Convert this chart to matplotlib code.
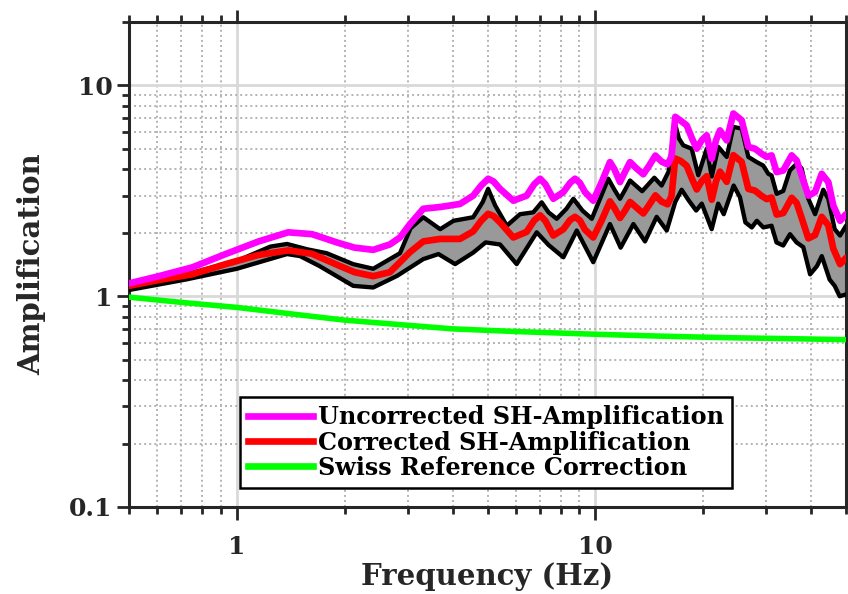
import matplotlib
matplotlib.use("Agg")
import matplotlib.pyplot as plt
from matplotlib.lines import Line2D
from matplotlib.ticker import LogLocator, NullFormatter

# uncorrected SH amplification (Hz, amplification)
freq_unc = [0.5, 0.6, 0.75, 0.93, 1.15, 1.39, 1.62, 1.92, 2.13, 2.4, 2.67, 2.85, 3.04, 3.31, 3.69,
            4.19, 4.56, 4.8, 5.02, 5.2, 5.42, 5.9, 6.43, 6.75, 7.01, 7.25, 7.63, 8.14, 8.5, 8.77,
            9.05, 9.35, 9.86, 10.41, 10.98, 11.3, 11.71, 12.1, 12.49, 13.0, 13.6, 14.1, 14.7, 15.3, 15.9,
            16.3, 16.7, 17.3, 17.97, 18.6, 19.17, 19.8, 20.44, 21.11, 21.7, 22.26, 23.24, 24.25, 25.58,
            26.7, 27.87, 29.09, 30.04, 31.0, 32.03, 33.42, 35.27, 36.42, 37.61, 39.26, 40.99, 42.78, 44.63,
            46.09, 48.13, 50.0]
amp_unc = [1.15, 1.24, 1.37, 1.585, 1.82, 2.01, 1.97, 1.79, 1.70, 1.66, 1.76, 1.90, 2.20, 2.60, 2.65,
           2.74, 3.00, 3.35, 3.61, 3.50, 3.23, 2.84, 3.00, 3.40, 3.61, 3.40, 2.90, 3.12, 3.45, 3.61,
           3.45, 3.12, 2.84, 3.48, 4.33, 4.00, 3.48, 3.90, 4.33, 4.05, 3.79, 4.15, 4.65, 4.35, 4.22,
           4.60, 7.10, 6.80, 6.47, 5.60, 5.01, 5.50, 5.80, 4.49, 5.50, 6.12, 5.49, 7.36, 6.84,
           5.11, 5.01, 4.74, 4.58, 4.66, 3.88, 3.95, 4.66, 4.41, 3.74, 3.00, 3.12, 3.81, 3.48,
           2.69, 2.28, 2.45]

# corrected SH amplification, same frequencies
amp_cor = [1.12, 1.19, 1.27, 1.42, 1.57, 1.65, 1.59, 1.40, 1.30, 1.245, 1.30, 1.45, 1.62, 1.82, 1.87,
           1.87, 2.03, 2.28, 2.46, 2.40, 2.24, 1.90, 2.02, 2.29, 2.42, 2.28, 1.94, 2.08, 2.30, 2.38,
           2.29, 2.07, 1.90, 2.29, 2.82, 2.62, 2.35, 2.55, 2.80, 2.64, 2.47, 2.70, 3.01, 2.81, 2.73,
           2.98, 4.50, 4.38, 4.16, 3.60, 3.21, 3.52, 3.71, 2.87, 3.51, 3.90, 3.49, 4.67, 4.34,
           3.23, 3.17, 2.99, 2.89, 2.94, 2.44, 2.48, 2.93, 2.77, 2.35, 1.88, 1.95, 2.38, 2.17,
           1.68, 1.42, 1.52]

# upper / lower bound of the corrected amplification
freq_hi = [0.5, 0.72, 1.0, 1.24, 1.38, 1.57, 1.78, 2.11, 2.4, 2.85, 3.05, 3.31, 3.69, 4.02, 4.56,
           4.85, 5.02, 5.25, 5.66, 6.16, 6.71, 7.08, 7.4, 7.8, 8.3, 8.68, 9.2, 9.77, 10.3, 10.86,
           11.3, 11.71, 12.1, 12.49, 13.5, 14.6, 15.3, 16.0, 16.67, 17.1, 17.58, 18.56, 19.36, 20.44, 21.11,
           22.02, 23.24, 24.25, 25.58, 26.7, 28.18, 29.37, 30.35, 31.0, 32.03, 33.42, 34.86, 36.42, 37.61,
           39.26, 40.99, 43.2, 44.63, 46.5, 48.13, 50.0]
amp_hi = [1.13, 1.27, 1.47, 1.72, 1.77, 1.67, 1.60, 1.42, 1.35, 1.60, 2.10, 2.37, 2.08, 2.28, 2.37,
          2.80, 3.23, 2.70, 2.16, 2.45, 2.50, 2.79, 2.50, 2.33, 2.60, 2.90, 2.55, 2.33, 2.90, 3.61,
          3.20, 2.90, 3.20, 3.54, 3.15, 3.65, 3.35, 3.90, 6.60, 5.60, 5.20, 5.01, 3.75, 5.01, 3.70,
          5.11, 4.58, 6.36, 6.24, 4.58, 4.33, 4.17, 3.81, 3.74, 3.06, 3.16, 3.95, 4.25, 4.04,
          2.90, 2.45, 3.20, 2.90, 2.08, 1.94, 2.16]

freq_lo = [0.5, 0.72, 1.0, 1.38, 1.5, 1.7, 2.11, 2.4, 2.8, 3.31, 3.65, 4.06, 4.56, 4.94, 5.42,
           6.03, 6.86, 7.4, 8.14, 8.87, 9.86, 10.98, 11.76, 12.76, 13.75, 14.82, 15.81, 16.7, 17.4, 18.2,
           19.1, 19.8, 21.1, 22.0, 22.8, 24.3, 25.3, 26.2, 27.3, 28.2, 29.4, 31.0, 32.0, 33.4, 34.9,
           36.4, 38.0, 39.7, 41.5, 42.8, 45.0, 46.5, 48.0, 50.0]
amp_lo = [1.07, 1.20, 1.35, 1.585, 1.55, 1.39, 1.12, 1.10, 1.25, 1.50, 1.585, 1.42, 1.61, 1.80, 1.76,
          1.42, 2.01, 1.75, 1.53, 2.05, 1.45, 2.20, 1.70, 2.20, 1.82, 2.38, 2.05, 2.80, 3.20, 2.85,
          2.55, 2.75, 2.08, 2.75, 2.45, 3.35, 2.95, 2.24, 2.12, 2.28, 2.12, 2.16, 1.80, 1.74, 1.97,
          1.80, 1.71, 1.27, 1.39, 1.55, 1.20, 1.12, 1.00, 1.02]

# Swiss reference rock correction
freq_ref = [0.5, 0.7, 1.0, 1.5, 2.0, 3.0, 4.0, 6.0, 10.0, 15.0, 23.0, 35.0, 50.0]
amp_ref = [0.99, 0.935, 0.885, 0.815, 0.77, 0.728, 0.70, 0.68, 0.66, 0.647, 0.636, 0.629, 0.622]

labels = ["Uncorrected SH-Amplification", "Corrected SH-Amplification", "Swiss Reference Correction"]
ink = "#262626"

plt.rcParams["font.family"] = ["DejaVu Serif"]
plt.rcParams["font.weight"] = "bold"

fig = plt.figure(figsize=(8.48, 5.94), dpi=100)
ax = fig.add_axes([129 / 848, 87 / 594, 717 / 848, 485 / 594])

ax.fill(freq_hi + freq_lo[::-1], amp_hi + amp_lo[::-1], color="#999999", lw=0, zorder=2)
kw = dict(solid_joinstyle="round", solid_capstyle="round")
ax.plot(freq_hi, amp_hi, color="black", lw=3.1, zorder=3, **kw)
ax.plot(freq_lo, amp_lo, color="black", lw=3.1, zorder=3, **kw)
ax.plot(freq_unc, amp_cor, color="#ff0000", lw=4.8, zorder=4, **kw)
ax.plot(freq_unc, amp_unc, color="#ff00ff", lw=4.8, zorder=4, **kw)
ax.plot(freq_ref, amp_ref, color="#00ff00", lw=4.0, zorder=4, **kw)

ax.set_xscale("log")
ax.set_yscale("log")
ax.set_xlim(0.5, 50)
ax.set_ylim(0.1, 20)
ax.set_xticks([1, 10], ["1", "10"])
ax.set_yticks([0.1, 1, 10], ["0.1", "1", "10"])
ax.xaxis.set_minor_locator(LogLocator(subs=range(2, 10)))
ax.yaxis.set_minor_locator(LogLocator(subs=range(2, 10)))
ax.xaxis.set_minor_formatter(NullFormatter())
ax.yaxis.set_minor_formatter(NullFormatter())

ax.set_axisbelow(True)
ax.grid(which="major", color="#d9d9d9", lw=2.0, ls="-")
ax.grid(which="minor", color="#b3b3b3", lw=1.4, ls=(0, (1, 1.6)))

ax.tick_params(which="both", direction="out", top=True, right=True, colors=ink,
               width=2.0, labelsize=18, labelcolor=ink)
ax.tick_params(which="major", length=9)
ax.tick_params(which="minor", length=5)
ax.tick_params(axis="x", which="major", pad=11)
ax.tick_params(axis="y", which="major", pad=3)
for s in ax.spines.values():
    s.set_linewidth(2.2)
    s.set_color(ink)

ax.set_xlabel("Frequency (Hz)", fontsize=21, fontweight="bold", color=ink, labelpad=2)
ax.set_ylabel("Amplification", fontsize=21, fontweight="bold", color=ink, labelpad=16)

handles = [Line2D([], [], color=c, lw=4.8) for c in ("#ff00ff", "#ff0000", "#00ff00")]
leg = ax.legend(handles, labels, loc="lower left", bbox_to_anchor=(0.155, 0.039),
                fontsize=17.2, handlelength=2.7, handletextpad=0.2, labelspacing=0.05,
                borderpad=0.35, borderaxespad=0, fancybox=False, framealpha=1)
leg.get_frame().set_edgecolor("black")
leg.get_frame().set_linewidth(1.8)
leg.set_zorder(10)

fig.savefig("out.png", dpi=100)
